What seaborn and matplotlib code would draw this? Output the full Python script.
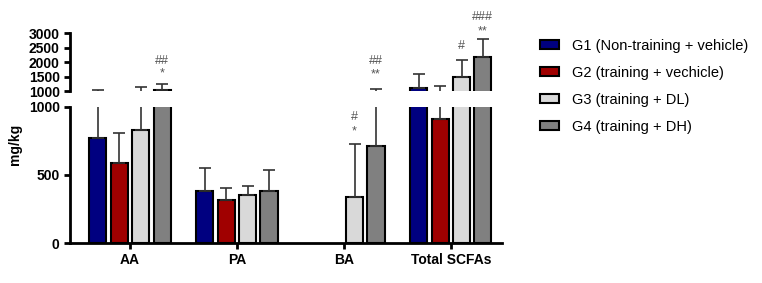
import matplotlib
matplotlib.use("Agg")
import matplotlib.pyplot as plt
import seaborn as sns
import pandas as pd

categories = ["AA", "PA", "BA", "Total SCFAs"]
groups = ["G1 (Non-training + vehicle)", "G2 (training + vechicle)",
          "G3 (training + DL)", "G4 (training + DH)"]
colors = ["#000080", "#A00000", "#D9D9D9", "#808080"]

g1_mean = [772, 382, 0, 1114]
g2_mean = [588, 316, 0, 912]
g3_mean = [830, 353, 338, 1490]
g4_mean = [1050, 382, 713, 2180]

g1_sd = [278, 169, 0, 476]
g2_sd = [221, 88, 0, 268]
g3_sd = [320, 66, 390, 580]
g4_sd = [190, 155, 357, 600]

# significance marks: (category, group index, text, y value)
marks = [
    ("AA", 3, "*", 1620), ("AA", 3, "##", 2035),
    ("BA", 2, "*", 816), ("BA", 2, "#", 926),
    ("BA", 3, "**", 1590), ("BA", 3, "##", 2035),
    ("Total SCFAs", 2, "#", 2550),
    ("Total SCFAs", 3, "**", 3060), ("Total SCFAs", 3, "###", 3560),
]

means = [g1_mean, g2_mean, g3_mean, g4_mean]
sds = [g1_sd, g2_sd, g3_sd, g4_sd]
rows = []
for g, m, s in zip(groups, means, sds):
    for c, mv, sv in zip(categories, m, s):
        rows.append({"acid": c, "group": g, "value": mv, "sd": sv})
df = pd.DataFrame(rows)

sns.set_style("ticks")
plt.rcParams["font.family"] = ["Liberation Sans", "DejaVu Sans"]
plt.rcParams["font.weight"] = "bold"
for k in ("text.color", "axes.labelcolor", "xtick.color", "ytick.color",
          "axes.edgecolor"):
    plt.rcParams[k] = "black"

fig = plt.figure(figsize=(7.62, 2.83), dpi=100)
ax_lo = fig.add_axes([0.092, 0.1413, 0.567, 0.481])
ax_hi = fig.add_axes([0.092, 0.678, 0.567, 0.205])

for ax in (ax_lo, ax_hi):
    sns.barplot(data=df, x="acid", y="value", hue="group", order=categories,
                hue_order=groups, palette=colors, saturation=1, errorbar=None,
                width=0.8, gap=0.2, edgecolor="black", linewidth=1.5,
                legend=(ax is ax_lo), ax=ax)
    for cont, s in zip(ax.containers, sds):
        for bar, sv in zip(cont, s):
            if bar.get_height() <= 0:
                bar.set_visible(False)
                continue
            xc = bar.get_x() + bar.get_width() / 2
            ax.errorbar(xc, bar.get_height(), yerr=[[0], [sv]], fmt="none",
                        ecolor="#333333", elinewidth=1.2, capsize=4,
                        capthick=1.2, zorder=1)
    ax.set_xlim(-0.56, 3.48)
    ax.set_xlabel("")
    ax.set_ylabel("")
    for sp in ("top", "right"):
        ax.spines[sp].set_visible(False)
    ax.spines["left"].set_linewidth(2)
    ax.spines["bottom"].set_linewidth(2)
    ax.tick_params(width=2, length=4, labelsize=10)

ax_lo.set_ylim(0, 1000)
ax_lo.set_yticks([0, 500, 1000])
ax_hi.set_ylim(1000, 3000)
ax_hi.set_yticks([1000, 1500, 2000, 2500, 3000])
ax_hi.spines["bottom"].set_visible(False)
ax_hi.tick_params(axis="x", bottom=False, labelbottom=False)
for lbl in ax_lo.get_xticklabels() + ax_lo.get_yticklabels() + ax_hi.get_yticklabels():
    lbl.set_fontweight("bold")

handles, labels = ax_lo.get_legend_handles_labels()
ax_lo.get_legend().remove()
fig.legend(handles, labels, loc="upper left", bbox_to_anchor=(0.692, 0.91),
           frameon=False, labelspacing=0.9, handlelength=1.25,
           handleheight=0.6, handletextpad=0.9,
           prop={"weight": "normal", "size": 10.5})

for cat, gi, txt, yv in marks:
    bar = ax_lo.containers[gi][categories.index(cat)]
    xc = bar.get_x() + bar.get_width() / 2
    ax = ax_lo if yv < 1000 else ax_hi
    ax.text(xc, yv, txt, ha="center", va="center", fontsize=9,
            color="#555555", fontweight="normal", clip_on=False)

fig.text(0.02, 0.49, "mg/kg", rotation=90, ha="center", va="center",
         fontsize=10, fontweight="bold")

fig.savefig("out.png", dpi=100)
